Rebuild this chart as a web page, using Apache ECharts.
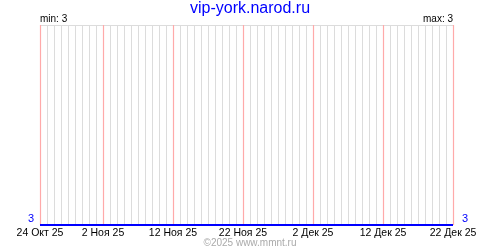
<!DOCTYPE html>
<html><head><meta charset="utf-8">
<script src="https://cdn.jsdelivr.net/npm/echarts@6/dist/echarts.min.js"></script>
<style>html,body{margin:0;padding:0;background:#fff}#c{width:500px;height:250px}</style>
</head><body><div id="c"></div>
<script>
var categories = [
"24 Окт 25","25 Окт 25","26 Окт 25","27 Окт 25","28 Окт 25","29 Окт 25","30 Окт 25","31 Окт 25",
"1 Ноя 25","2 Ноя 25","3 Ноя 25","4 Ноя 25","5 Ноя 25","6 Ноя 25","7 Ноя 25","8 Ноя 25","9 Ноя 25","10 Ноя 25",
"11 Ноя 25","12 Ноя 25","13 Ноя 25","14 Ноя 25","15 Ноя 25","16 Ноя 25","17 Ноя 25","18 Ноя 25","19 Ноя 25","20 Ноя 25",
"21 Ноя 25","22 Ноя 25","23 Ноя 25","24 Ноя 25","25 Ноя 25","26 Ноя 25","27 Ноя 25","28 Ноя 25","29 Ноя 25","30 Ноя 25",
"1 Дек 25","2 Дек 25","3 Дек 25","4 Дек 25","5 Дек 25","6 Дек 25","7 Дек 25","8 Дек 25","9 Дек 25","10 Дек 25",
"11 Дек 25","12 Дек 25","13 Дек 25","14 Дек 25","15 Дек 25","16 Дек 25","17 Дек 25","18 Дек 25","19 Дек 25","20 Дек 25",
"21 Дек 25","22 Дек 25"
];
var values = [3,3,3,3,3,3,3,3,3,3, 3,3,3,3,3,3,3,3,3,3, 3,3,3,3,3,3,3,3,3,3,
              3,3,3,3,3,3,3,3,3,3, 3,3,3,3,3,3,3,3,3,3, 3,3,3,3,3,3,3,3,3,3];
var labelDays = ["24 Окт 25","2 Ноя 25","12 Ноя 25","22 Ноя 25","2 Дек 25","12 Дек 25","22 Дек 25"];
var titleText = "vip-york.narod.ru";
var footerText = "©2025 www.mmnt.ru";

var vMin = Math.min.apply(null, values), vMax = Math.max.apply(null, values);
function isMark(i){ return labelDays.indexOf(categories[i]) >= 0; }
var font = "Liberation Sans";
var chart = echarts.init(document.getElementById('c'), null, {renderer:'canvas'});
var yCommon = {
  type:'value', min:vMin, max:vMin+1, interval:1,
  axisLine:{show:false}, axisTick:{show:false},
  splitLine:{show:true, lineStyle:{color:'#dcdcdc', width:1}},
  axisLabel:{show:true, color:'#0000ff', fontFamily:font, fontSize:11, margin:6,
    verticalAlign:'bottom', lineHeight:12,
    formatter:function(v){ return v===vMin ? String(vMin) : ''; }}
};
chart.setOption({
  animation:false,
  title:[
    {text:titleText, left:'center', top:1, padding:0, textStyle:{color:'#0000ff', fontFamily:'Liberation Sans', fontSize:16, fontWeight:'normal'}},
    {text:'min: '+vMin, left:40, top:14, padding:0, textStyle:{color:'#000', fontFamily:font, fontSize:10, fontWeight:'normal'}},
    {text:'max: '+vMax, right:47, top:14, padding:0, textStyle:{color:'#000', fontFamily:font, fontSize:10, fontWeight:'normal'}},
    {text:footerText, left:'center', top:238, padding:0, textStyle:{color:'#aaa', fontFamily:font, fontSize:10, fontWeight:'normal'}}
  ],
  grid:{left:40, right:47, top:25, bottom:25, containLabel:false},
  xAxis:[
    {type:'category', data:categories, boundaryGap:false,
     axisLine:{show:false}, axisTick:{show:false},
     splitLine:{show:true, interval:0, lineStyle:{color:'#dcdcdc', width:1}},
     axisLabel:{show:true, interval:function(i){return isMark(i);}, color:'#000', fontFamily:font, fontSize:10.5, margin:3}}
  ],
  yAxis:[
    Object.assign({}, yCommon, {position:'left'}),
    Object.assign({}, yCommon, {position:'right', splitLine:{show:false}, axisLabel:Object.assign({}, yCommon.axisLabel, {margin:9})})
  ],
  series:[{type:'line', data:values, xAxisIndex:0, yAxisIndex:0, showSymbol:false, symbol:'none',
    lineStyle:{color:'#0000ff', width:2}, z:5,
    markLine:{silent:true, symbol:['none','none'], label:{show:false}, animation:false, z:4,
      lineStyle:{color:'#ffaaaa', width:1.2, type:'solid', opacity:1},
      emphasis:{disabled:true},
      data:labelDays.map(function(d){ return {xAxis:d}; })}
  }]
});
</script></body></html>
